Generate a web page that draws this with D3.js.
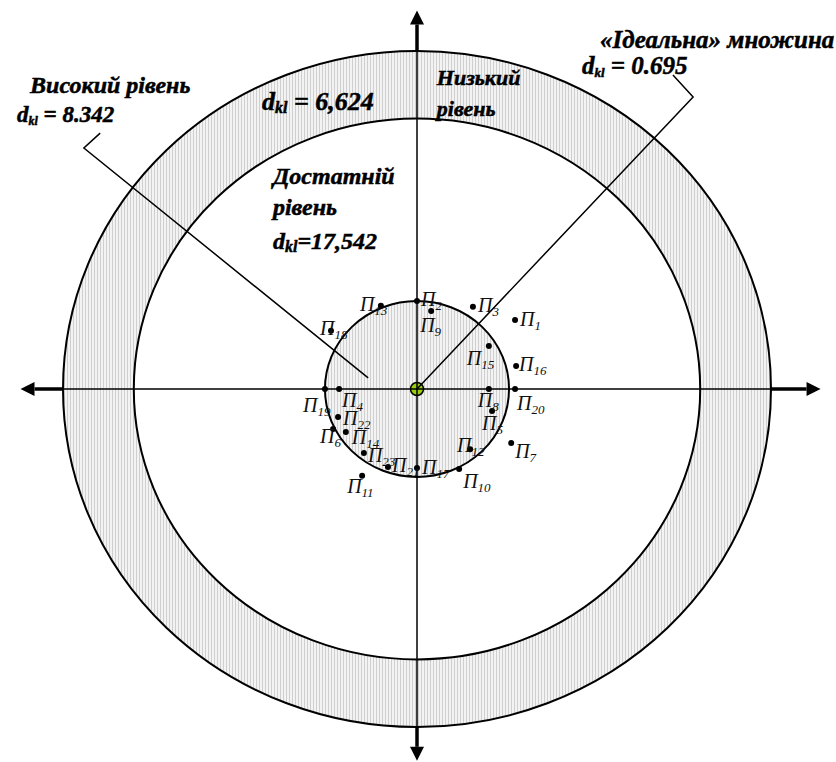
<!DOCTYPE html>
<html>
<head>
<meta charset="utf-8">
<script src="https://cdn.jsdelivr.net/npm/d3@7"></script>
<style>
  body { margin: 0; background: #fff; }
</style>
</head>
<body>
<div id="chart-area"></div>
<script>
// levels (radius in chart units, outer = 100)
var levelRadius = [100, 80, 26];

// points П1..П23 in chart units (centre = 0,0)
var pointNames = ["1","2","3","4","5","6","7","8","9","10","11","12","13","14","15","16","17","18","19","20","21","22","23"];
var pointX = [27.7, 0, 15.8, -22.0, 21.2, -23.7, 26.6, 20.3, 4.0, 11.9, -15.5, 15.0, -10.2, -20.1, 20.3, 28.0, 0, -24.3, -26.0, 27.7, -8.2, -22.3, -15.0];
var pointY = [20.4, 26.0, 24.3, 0, -6.5, -11.8, -16.0, 0, 23.1, -23.7, -25.7, -17.8, 24.6, -12.7, 12.7, 6.8, -23.4, 17.2, 0, 0, -23.1, -8.3, -18.9];

// callout leader lines
var leaderHigh = [[-89.5, 75.7], [-94.1, 71.3], [-13.8, 3.3]];
var leaderIdeal = [[72.3, 92.9], [78.0, 86.4], [0, 0]];

// axis ends
var xAxisEnds = [-112, 114];
var yAxisEnds = [-110, 112];

// label offsets in px (dx, dy) from each point
var labelOffset = [[5,6],[4,5],[5,5],[3,18],[-10,19],[-13,14],[4,15],[-11,18],[-11,21],[4,19],[-15,17],[-13,3],[-21,5],[6,12],[-22,19],[3,5],[5,6],[-11,4],[-22,23],[2,21],[4,5],[5,8],[4,9]];

const WIDTH = 836, HEIGHT = 762;
const FONT = "'Liberation Serif', 'Times New Roman', Times, serif";

const svg = d3.select("#chart-area").append("svg")
  .attr("width", WIDTH)
  .attr("height", HEIGHT)
  .style("font-family", FONT)
  .style("font-style", "italic");

var xScale = d3.scaleLinear().domain([-100, 100]).range([63, 771]);
var yScale = d3.scaleLinear().domain([-100, 100]).range([727, 51]);
var pxX = d => xScale(d) - xScale(0);
var pxY = d => yScale(0) - yScale(d);

// hatch pattern
var defs = svg.append("defs");
var pat = defs.append("pattern")
  .attr("id", "hatch")
  .attr("patternUnits", "userSpaceOnUse")
  .attr("width", 3).attr("height", 3);
pat.append("rect").attr("width", 3).attr("height", 3).attr("fill", "#f3f3f3");
pat.append("rect").attr("x", 1).attr("width", 1).attr("height", 3).attr("fill", "#cfcfcf");

var levelFill = ["url(#hatch)", "#fff", "url(#hatch)"];

svg.selectAll("ellipse.level")
  .data(levelRadius)
  .enter().append("ellipse")
  .attr("class", "level")
  .attr("cx", xScale(0))
  .attr("cy", yScale(0))
  .attr("rx", d => pxX(d))
  .attr("ry", d => pxY(d))
  .attr("fill", (d, i) => levelFill[i])
  .attr("stroke", "#000")
  .attr("stroke-width", 2);

// green centre
svg.append("circle")
  .attr("cx", xScale(0)).attr("cy", yScale(0))
  .attr("r", 6.5)
  .attr("fill", "#9acd10")
  .attr("stroke", "#000")
  .attr("stroke-width", 1.5);

// axes: thin inside outer ring, thick outside, arrows at ends
var axisG = svg.append("g").attr("stroke", "#000");
axisG.append("line")
  .attr("x1", xScale(-100)).attr("x2", xScale(100))
  .attr("y1", yScale(0)).attr("y2", yScale(0))
  .attr("stroke-width", 1.5);
axisG.append("line")
  .attr("x1", xScale(0)).attr("x2", xScale(0))
  .attr("y1", yScale(-100)).attr("y2", yScale(100))
  .attr("stroke-width", 1.5);

var head = 14, half = 7;
function arrow(x0, y0, x1, y1) {
  // thick shaft from (x0,y0) to tip (x1,y1)
  var dx = x1 - x0, dy = y1 - y0, len = Math.hypot(dx, dy);
  var ux = dx / len, uy = dy / len;
  var bx = x1 - ux * head, by = y1 - uy * head;
  axisG.append("line")
    .attr("x1", x0).attr("y1", y0).attr("x2", bx).attr("y2", by)
    .attr("stroke-width", 3.5);
  axisG.append("path")
    .attr("d", d3.line()([[x1, y1], [bx - uy * half, by + ux * half], [bx + uy * half, by - ux * half]]) + "Z")
    .attr("fill", "#000").attr("stroke", "none");
}
arrow(xScale(-100), yScale(0), xScale(xAxisEnds[0]), yScale(0));
arrow(xScale(100), yScale(0), xScale(xAxisEnds[1]), yScale(0));
arrow(xScale(0), yScale(100), xScale(0), yScale(yAxisEnds[1]));
arrow(xScale(0), yScale(-100), xScale(0), yScale(yAxisEnds[0]));

// leader lines
var leader = d3.line().x(d => xScale(d[0])).y(d => yScale(d[1]));
[leaderHigh, leaderIdeal].forEach(function (pts) {
  svg.append("path")
    .attr("d", leader(pts))
    .attr("fill", "none")
    .attr("stroke", "#000")
    .attr("stroke-width", 1.5);
});

// points
var pts = pointNames.map((n, i) => ({ name: n, x: pointX[i], y: pointY[i], off: labelOffset[i] }));

svg.selectAll("circle.pt")
  .data(pts)
  .enter().append("circle")
  .attr("class", "pt")
  .attr("cx", d => xScale(d.x))
  .attr("cy", d => yScale(d.y))
  .attr("r", 3)
  .attr("fill", "#000");

var lab = svg.selectAll("text.pt")
  .data(pts)
  .enter().append("text")
  .attr("class", "pt")
  .attr("x", d => xScale(d.x) + d.off[0])
  .attr("y", d => yScale(d.y) + d.off[1])
  .attr("font-size", 20)
  .attr("fill", "#111");
lab.append("tspan").text("П");
lab.append("tspan").attr("dy", 4).attr("font-size", 13).text(d => d.name);

// annotations (bold italic, slightly heavier like the scanned original)
function boldText(x, y, size) {
  return svg.append("text")
    .attr("x", xScale(x)).attr("y", yScale(y))
    .attr("font-size", size)
    .attr("font-weight", "bold")
    .attr("stroke", "#000")
    .attr("stroke-width", 0.5);
}
function dkl(x, y, size, subSize, rest) {
  var t = boldText(x, y, size);
  t.append("tspan").text("d");
  t.append("tspan").attr("dy", 3).attr("font-size", subSize).text("kl");
  t.append("tspan").attr("dy", -3).text(rest);
}
function label(x, y, size, str) {
  boldText(x, y, size).text(str);
}

label(-109.3, 87.6, 24, "Високий рівень");
dkl(-113, 79.0, 23, 12, " = 8.342");

label(51.7, 100.9, 25, "«Ідеальна» множина");
dkl(46.6, 93.2, 25, 13, " = 0.695");

label(5.6, 89.9, 22, "Низький");
label(5.6, 80.8, 22, "рівень");

dkl(-43.8, 82.5, 26, 16, " = 6,624");

label(-40.7, 60.7, 24, "Достатній");
label(-40.7, 51.5, 24, "рівень");
dkl(-40.7, 41.4, 24, 16, "=17,542");
</script>
</body>
</html>
